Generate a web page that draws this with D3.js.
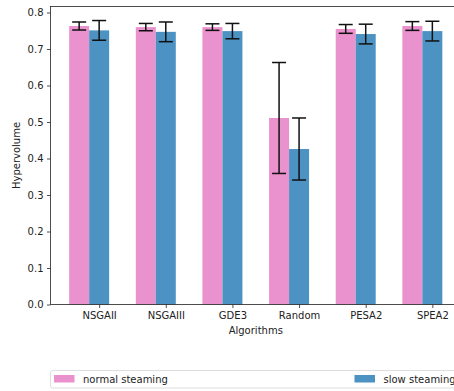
<!DOCTYPE html>
<html>
<head>
<meta charset="utf-8">
<script src="https://cdn.jsdelivr.net/npm/d3@7"></script>
<style>
  html, body { margin: 0; padding: 0; background: #fff; }
  svg { display: block; font-family: "DejaVu Sans", sans-serif; }
</style>
</head>
<body>
<svg id="chart" width="454" height="391"></svg>
<script>
// Mean hypervolume per algorithm with standard-deviation error bars
const categories = ["NSGAII", "NSGAIII", "GDE3", "Random", "PESA2", "SPEA2"];
const seriesNames = ["normal steaming", "slow steaming"];
const normalMean = [0.763, 0.760, 0.760, 0.511, 0.755, 0.763];
const normalErr  = [0.011, 0.010, 0.009, 0.152, 0.012, 0.012];
const slowMean   = [0.751, 0.747, 0.749, 0.426, 0.741, 0.749];
const slowErr    = [0.027, 0.027, 0.021, 0.085, 0.027, 0.027];
const yTicks = [0.0, 0.1, 0.2, 0.3, 0.4, 0.5, 0.6, 0.7, 0.8];
const colors = ["#e992ce", "#4c92c3"];

const series = [
  { name: seriesNames[0], mean: normalMean, err: normalErr, color: colors[0], offset: -0.3 },
  { name: seriesNames[1], mean: slowMean, err: slowErr, color: colors[1], offset: 0 }
];
const barWidth = 0.3;

const svg = d3.select("#chart");
const margin = { left: 50.5, top: 6.5, bottom: 304.5 };
const axisRight = 461;

// x in category units; bars span [i-0.3, i+0.3] and the axis pads 5% each side
const xMin = -0.3 - 0.05 * 5.6, xMax = 5 + 0.3 + 0.05 * 5.6;
const x = d3.scaleLinear().domain([xMin, xMax]).range([margin.left, axisRight]);
const y = d3.scaleLinear().domain([0, 0.8]).range([margin.bottom, 12.5]);

const plot = svg.append("g");

series.forEach(s => {
  plot.selectAll(null)
    .data(categories)
    .enter().append("rect")
    .attr("x", (d, i) => x(i + s.offset + 0.15 - barWidth / 2))
    .attr("width", x(barWidth) - x(0))
    .attr("y", (d, i) => y(s.mean[i]))
    .attr("height", (d, i) => y(0) - y(s.mean[i]))
    .attr("fill", s.color);
});

// error bars
series.forEach(s => {
  const g = plot.selectAll(null)
    .data(categories)
    .enter().append("g")
    .attr("stroke", "#111")
    .attr("stroke-width", 1.5);
  const cx = i => x(i + s.offset + 0.15);
  g.append("line")
    .attr("x1", (d, i) => cx(i)).attr("x2", (d, i) => cx(i))
    .attr("y1", (d, i) => y(s.mean[i] - s.err[i]))
    .attr("y2", (d, i) => y(s.mean[i] + s.err[i]));
  [-1, 1].forEach(sign => {
    g.append("line")
      .attr("x1", (d, i) => cx(i) - 7).attr("x2", (d, i) => cx(i) + 7)
      .attr("y1", (d, i) => y(s.mean[i] + sign * s.err[i]))
      .attr("y2", (d, i) => y(s.mean[i] + sign * s.err[i]));
  });
});

// axes
const yAxis = d3.axisLeft(y).tickValues(yTicks).tickFormat(d3.format(".1f")).tickSize(3.5).tickPadding(3.5);
const gy = svg.append("g").attr("transform", `translate(${margin.left},0)`).call(yAxis);
const xAxis = d3.axisBottom(x).tickValues(d3.range(categories.length).map(i => i + 0.15))
  .tickFormat((d, i) => categories[i]).tickSize(3.5).tickPadding(3.5);
const gx = svg.append("g").attr("transform", `translate(0,${margin.bottom})`).call(xAxis);
[gx, gy].forEach(g => {
  g.select(".domain").remove();
  g.selectAll("text").attr("font-size", 10).attr("fill", "#222").attr("font-family", "DejaVu Sans");
  g.selectAll("line").attr("stroke", "#222").attr("stroke-width", 0.8);
});

// spines
svg.append("rect")
  .attr("x", margin.left).attr("y", margin.top)
  .attr("width", axisRight - margin.left).attr("height", margin.bottom - margin.top)
  .attr("fill", "none").attr("stroke", "#222").attr("stroke-width", 0.8);

// axis titles
svg.append("text")
  .attr("x", (margin.left + axisRight) / 2).attr("y", 334)
  .attr("text-anchor", "middle").attr("font-size", 10).attr("fill", "#222")
  .text("Algorithms");
svg.append("text")
  .attr("transform", `translate(20,${(margin.top + margin.bottom) / 2}) rotate(-90)`)
  .attr("text-anchor", "middle").attr("font-size", 10).attr("fill", "#222")
  .text("Hypervolume");

// legend spanning the axes width below the plot
const lg = svg.append("g");
lg.append("rect")
  .attr("x", margin.left).attr("y", 370.5)
  .attr("width", axisRight - margin.left).attr("height", 17.5)
  .attr("rx", 2).attr("fill", "#fff").attr("stroke", "#d5d5d5").attr("stroke-width", 0.8);
const legendX = [54, 354.5];
series.forEach((s, k) => {
  lg.append("rect")
    .attr("x", legendX[k]).attr("y", 375).attr("width", 20.5).attr("height", 7.5)
    .attr("fill", s.color);
  lg.append("text")
    .attr("x", legendX[k] + 29).attr("y", 382.5)
    .attr("font-size", 10).attr("fill", "#222")
    .text(s.name);
});
</script>
</body>
</html>
